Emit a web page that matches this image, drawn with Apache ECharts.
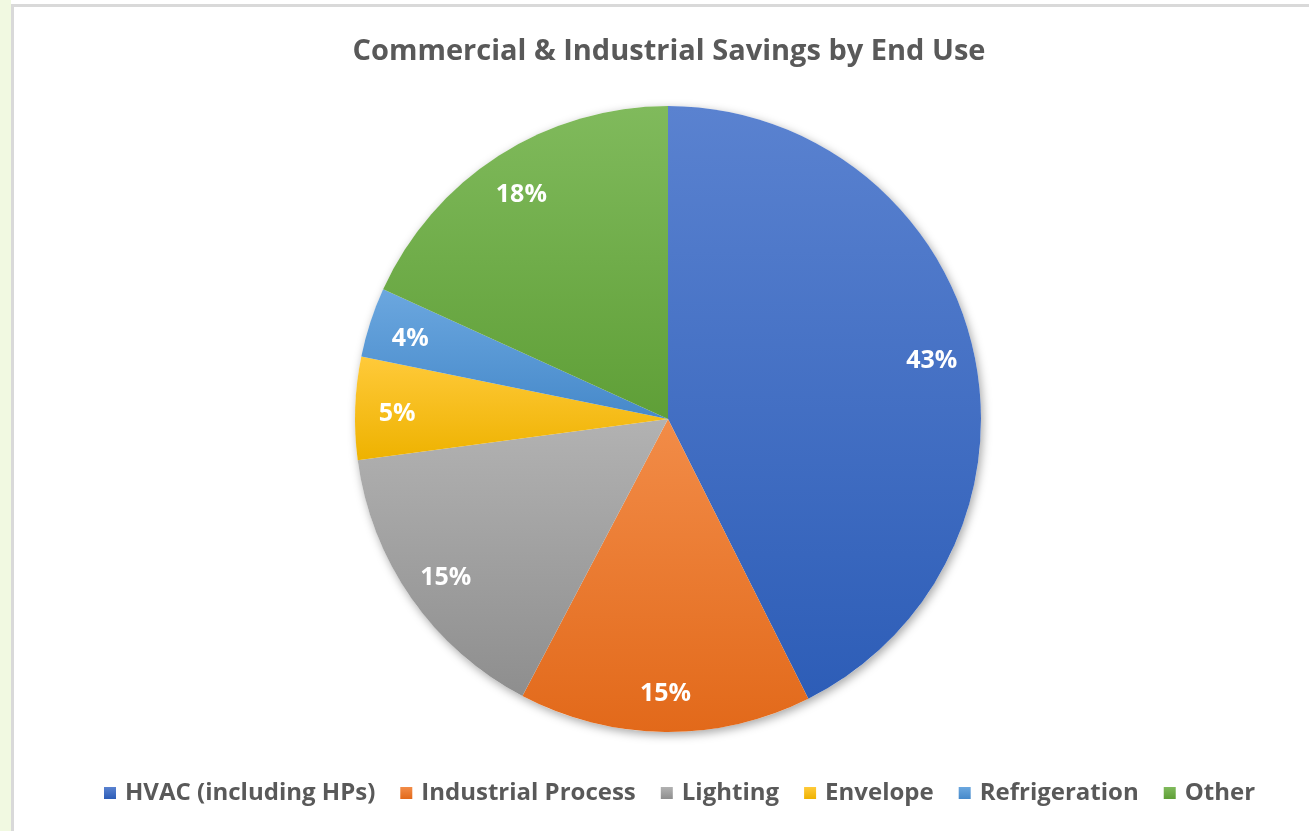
<!DOCTYPE html>
<html>
<head>
<meta charset="utf-8">
<script src="https://cdn.jsdelivr.net/npm/echarts@6/dist/echarts.min.js"></script>
<style>
  html, body { margin: 0; padding: 0; background: #ffffff; width: 1309px; height: 831px; overflow: hidden; }
  #strip { position: absolute; left: 0; top: 0; width: 11px; height: 831px; background: #F1F9E1; }
  #frame { position: absolute; left: 11px; top: 4px; width: 1298px; height: 827px; border-left: 3px solid #D9D9D9; border-top: 3px solid #D9D9D9; box-sizing: border-box; }
  #chart { position: absolute; left: 0; top: 0; width: 1309px; height: 831px; }
</style>
</head>
<body>
<div id="strip"></div>
<div id="frame"></div>
<div id="chart"></div>
<script>
const categories = ['HVAC (including HPs)', 'Industrial Process', 'Lighting', 'Envelope', 'Refrigeration', 'Other'];
const savingsShare = [42.6, 15.1, 15.2, 5.3, 3.6, 18.2];
const colorsTop = ['#5A82D0', '#F28C48', '#B2B2B2', '#FFCA3A', '#6BA7DF', '#80BA5C'];
const colorsBottom = ['#2D5DB7', '#E2691A', '#8E8E8E', '#EEB200', '#4689CA', '#5F9F37'];

const chart = echarts.init(document.getElementById('chart'), null, { renderer: 'canvas' });

const mainData = categories.map((name, i) => ({
  name: name,
  value: savingsShare[i],
  itemStyle: {
    color: new echarts.graphic.LinearGradient(0, 0, 0, 1, [
      { offset: 0, color: colorsTop[i] },
      { offset: 1, color: colorsBottom[i] }
    ])
  }
}));

const labelData = categories.map((name, i) => ({ name: name, value: savingsShare[i] }));

const center = [668, 419];
const R = 313;

chart.setOption({
  backgroundColor: 'transparent',
  animation: false,
  title: {
    text: 'Commercial & Industrial Savings by End Use',
    left: 664,
    top: 32,
    textAlign: 'center',
    textStyle: {
      fontFamily: 'Open Sans',
      fontWeight: 'bold',
      fontSize: 29,
      color: '#595959'
    }
  },
  legend: {
    data: categories,
    left: 99,
    top: 776,
    icon: 'rect',
    itemWidth: 12,
    itemHeight: 12,
    itemGap: 25,
    selectedMode: false,
    textStyle: {
      fontFamily: 'Open Sans',
      fontWeight: 'bold',
      fontSize: 24,
      color: '#595959',
      padding: [0, 0, 0, 4]
    }
  },
  series: [
    {
      type: 'pie',
      name: 'shadow',
      silent: true,
      center: center,
      radius: [0, R],
      startAngle: 90,
      label: { show: false },
      labelLine: { show: false },
      itemStyle: {
        color: '#ffffff',
        shadowBlur: 10,
        shadowColor: 'rgba(0,0,0,0.35)',
        shadowOffsetX: 2,
        shadowOffsetY: 3
      },
      z: 1,
      data: [{ name: '__bg', value: 1 }]
    },
    {
      type: 'pie',
      name: 'Savings',
      center: center,
      radius: [0, R],
      startAngle: 90,
      clockwise: true,
      silent: true,
      label: { show: false },
      labelLine: { show: false },
      itemStyle: { borderWidth: 0 },
      z: 2,
      data: mainData
    },
    {
      type: 'pie',
      name: 'labels',
      center: [668, 423],
      radius: [246, 290],
      startAngle: 90,
      clockwise: true,
      silent: true,
      itemStyle: { color: 'rgba(0,0,0,0)' },
      label: {
        show: true,
        position: 'inside',
        formatter: p => Math.round(p.value) + '%',
        fontFamily: 'Open Sans',
        fontWeight: 'bold',
        fontSize: 25,
        color: '#ffffff'
      },
      labelLine: { show: false },
      z: 3,
      data: labelData
    }
  ]
});
</script>
</body>
</html>
